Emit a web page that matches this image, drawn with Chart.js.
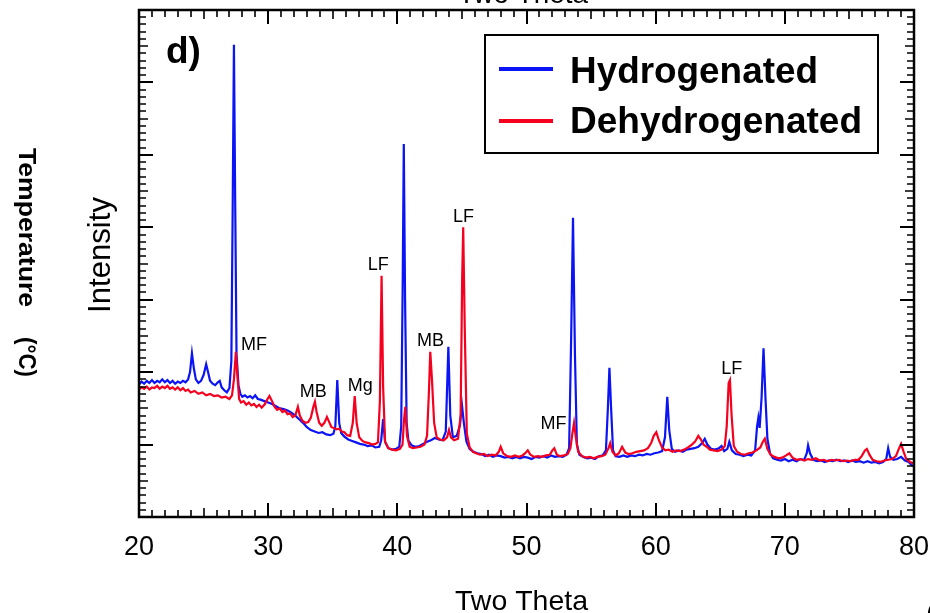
<!DOCTYPE html>
<html>
<head>
<meta charset="utf-8">
<script src="https://cdn.jsdelivr.net/npm/chart.js@4.4.1/dist/chart.umd.min.js"></script>
<style>
  html, body { margin: 0; padding: 0; background: #fff; }
</style>
</head>
<body>
<canvas id="xrd" width="930" height="613"></canvas>
<script>
// XRD pattern, panel d) — hydrogenated vs dehydrogenated

// [two theta, intensity]
const hydrogenated = [
  [20.0,183],[20.2,187],[20.4,184],[20.6,188],[20.8,185],[21.0,189],[21.2,185],[21.4,188],[21.6,186],[21.8,190],
  [22.0,186],[22.2,189],[22.4,185],[22.6,188],[22.8,184],[23.0,187],[23.2,185],[23.4,188],[23.6,186],[23.8,190],
  [23.95,200],[24.1,226],[24.25,205],[24.4,190],[24.6,185],[24.8,188],[25.0,196],[25.2,211],[25.35,200],[25.5,188],
  [25.7,184],[25.9,182],[26.1,186],[26.25,188],[26.4,179],[26.6,175],[26.8,172],[27.0,178],[27.15,215],[27.25,420],
  [27.35,652],[27.45,430],[27.55,225],[27.7,182],[27.85,170],[28.0,166],[28.2,168],[28.4,165],[28.6,167],[28.8,164],
  [29.0,168],[29.2,163],[29.4,162],[29.7,160],[30.0,158],[30.3,156],[30.6,153],[30.9,150],[31.2,149],[31.5,147],
  [31.8,144],[32.1,140],[32.4,135],[32.7,130],[33.0,124],[33.3,120],[33.6,118],[33.9,116],[34.2,117],[34.5,114],
  [34.8,113],[35.05,115],[35.2,125],[35.35,189],[35.5,130],[35.65,116],[35.9,111],[36.2,107],[36.5,105],[36.8,103],
  [37.1,101],[37.4,100],[37.7,98],[38.0,99],[38.3,96],[38.6,97],[38.75,106],[38.9,135],[39.05,104],[39.3,95],
  [39.6,93],[39.9,94],[40.15,97],[40.3,125],[40.42,330],[40.5,515],[40.6,300],[40.72,130],[40.85,106],[41.1,99],
  [41.4,97],[41.7,98],[42.0,101],[42.3,104],[42.6,106],[42.9,109],[43.2,107],[43.5,106],[43.75,118],[43.95,235],
  [44.1,140],[44.3,110],[44.6,112],[44.85,127],[45.0,155],[45.15,130],[45.35,104],[45.6,94],[45.9,90],[46.2,88],
  [46.5,87],[46.8,84],[47.1,86],[47.4,83],[47.7,85],[48.0,84],[48.3,82],[48.6,83],[48.9,81],[49.2,83],
  [49.5,81],[49.8,83],[50.1,82],[50.4,80],[50.7,83],[51.0,82],[51.3,84],[51.6,82],[51.9,85],[52.2,83],
  [52.5,84],[52.8,83],[53.1,86],[53.3,95],[53.45,240],[53.6,413],[53.75,225],[53.9,100],[54.1,86],[54.4,83],
  [54.7,81],[55.0,82],[55.3,80],[55.6,84],[55.9,85],[56.15,92],[56.3,150],[56.42,206],[56.55,150],[56.7,92],
  [56.9,84],[57.2,83],[57.5,85],[57.8,83],[58.1,85],[58.4,84],[58.7,86],[59.0,85],[59.3,87],[59.6,86],
  [59.9,88],[60.2,89],[60.5,91],[60.72,110],[60.9,166],[61.05,120],[61.25,94],[61.5,90],[61.8,92],[62.1,90],
  [62.4,93],[62.7,94],[63.0,95],[63.3,97],[63.6,102],[63.8,108],[64.0,100],[64.3,94],[64.6,93],[64.9,95],
  [65.1,98],[65.3,91],[65.55,94],[65.7,104],[65.9,92],[66.2,87],[66.5,86],[66.8,84],[67.1,86],[67.4,85],
  [67.7,92],[67.85,125],[67.95,137],[68.05,123],[68.2,165],[68.35,233],[68.5,165],[68.65,108],[68.85,88],[69.1,81],
  [69.4,79],[69.7,78],[70.0,80],[70.3,77],[70.6,79],[70.9,77],[71.2,80],[71.5,79],[71.7,88],[71.8,99],
  [71.95,88],[72.2,79],[72.5,77],[72.8,78],[73.1,76],[73.4,78],[73.7,77],[74.0,79],[74.3,77],[74.6,78],
  [74.9,76],[75.2,78],[75.5,76],[75.8,77],[76.1,75],[76.4,77],[76.7,75],[77.0,76],[77.3,74],[77.6,76],
  [77.85,80],[78.0,95],[78.15,83],[78.4,79],[78.7,80],[79.0,83],[79.3,78],[79.6,76],[79.8,72],[80.0,70]
];

const dehydrogenated = [
  [20.0,176],[20.2,179],[20.4,177],[20.6,180],[20.8,176],[21.0,179],[21.2,178],[21.4,181],[21.6,177],[21.8,180],
  [22.0,178],[22.2,181],[22.4,177],[22.6,179],[22.8,176],[23.0,179],[23.2,175],[23.4,178],[23.6,174],[23.8,176],
  [24.0,172],[24.3,174],[24.6,170],[24.9,172],[25.2,168],[25.5,170],[25.8,167],[26.1,168],[26.4,165],[26.7,166],
  [27.0,163],[27.2,168],[27.35,190],[27.5,228],[27.62,195],[27.75,163],[27.9,158],[28.1,160],[28.3,155],[28.5,158],
  [28.7,154],[28.9,156],[29.1,152],[29.3,155],[29.5,151],[29.75,156],[29.95,163],[30.1,167],[30.3,160],[30.5,152],
  [30.7,148],[30.9,150],[31.1,145],[31.3,147],[31.5,142],[31.7,143],[31.9,138],[32.1,140],[32.3,152],[32.45,140],
  [32.65,133],[32.9,130],[33.1,131],[33.3,137],[33.5,152],[33.62,159],[33.75,145],[33.95,130],[34.15,126],[34.35,130],
  [34.55,138],[34.7,132],[34.9,124],[35.1,123],[35.3,121],[35.5,122],[35.7,118],[35.9,117],[36.1,113],[36.35,112],
  [36.55,130],[36.7,167],[36.85,130],[37.05,110],[37.3,105],[37.55,103],[37.8,102],[38.05,100],[38.3,101],[38.5,103],
  [38.65,160],[38.78,333],[38.9,180],[39.05,104],[39.3,95],[39.6,93],[39.9,92],[40.2,94],[40.4,100],[40.52,135],
  [40.62,152],[40.75,112],[40.95,97],[41.2,95],[41.5,96],[41.8,97],[42.1,100],[42.3,112],[42.45,175],[42.55,228],
  [42.68,190],[42.85,130],[43.05,110],[43.3,107],[43.6,106],[43.85,110],[44.0,120],[44.15,110],[44.4,106],[44.7,108],
  [44.9,140],[45.02,330],[45.1,400],[45.22,260],[45.38,115],[45.6,96],[45.85,90],[46.1,88],[46.4,86],[46.7,87],
  [47.0,84],[47.3,86],[47.6,85],[47.85,90],[48.0,97],[48.2,88],[48.5,84],[48.8,83],[49.1,85],[49.4,83],
  [49.7,85],[49.95,89],[50.1,92],[50.3,86],[50.6,83],[50.9,84],[51.2,83],[51.5,85],[51.8,86],[52.0,92],
  [52.15,95],[52.35,86],[52.6,84],[52.9,85],[53.2,87],[53.4,95],[53.55,115],[53.68,130],[53.82,110],[54.0,90],
  [54.3,84],[54.6,82],[54.9,83],[55.2,81],[55.5,83],[55.8,84],[56.1,86],[56.35,95],[56.48,102],[56.65,90],
  [56.9,85],[57.15,88],[57.4,97],[57.65,89],[57.9,87],[58.2,88],[58.5,90],[58.8,91],[59.1,92],[59.4,95],
  [59.65,102],[59.85,112],[60.05,117],[60.25,106],[60.5,96],[60.75,92],[61.0,93],[61.3,90],[61.6,92],[61.9,91],
  [62.2,93],[62.5,96],[62.8,100],[63.05,104],[63.3,112],[63.5,107],[63.7,100],[63.95,97],[64.2,93],[64.5,92],
  [64.8,91],[65.1,93],[65.35,98],[65.5,125],[65.65,185],[65.75,189],[65.88,140],[66.05,98],[66.3,90],[66.6,87],
  [66.9,86],[67.2,88],[67.5,89],[67.8,92],[68.1,96],[68.3,104],[68.45,108],[68.65,94],[68.9,86],[69.2,83],
  [69.5,81],[69.8,82],[70.1,85],[70.35,88],[70.6,82],[70.9,79],[71.2,80],[71.5,78],[71.8,80],[72.1,79],
  [72.4,81],[72.7,78],[73.0,79],[73.3,77],[73.6,79],[73.9,78],[74.2,79],[74.5,77],[74.8,78],[75.1,77],
  [75.4,79],[75.7,79],[75.95,84],[76.2,92],[76.35,94],[76.55,86],[76.8,79],[77.1,77],[77.4,76],[77.7,78],
  [78.0,79],[78.3,80],[78.6,84],[78.85,95],[79.0,101],[79.2,90],[79.4,80],[79.7,76],[80.0,74]
];

// phase labels over the peaks
const peakLabels = ['MF', 'MB', 'Mg', 'LF', 'MB', 'LF', 'MF', 'LF'];
const peakLabelTheta = [28.91, 33.49, 37.13, 38.53, 42.56, 45.12, 52.09, 65.89];
const peakLabelIntensity = [231, 166, 174, 341, 236, 407, 122, 197];

const seriesNames = ['Hydrogenated', 'Dehydrogenated'];
const seriesColors = ['#0a14f5', '#f5001e'];

const thetaMin = 20, thetaMax = 80, thetaStep = 10;
const intensityMin = 0, intensityMax = 700;

const FONT = '"Liberation Sans", Arial, Helvetica, sans-serif';

// draw text squeezed/stretched to a given width
function fitText(ctx, text, x, y, width) {
  const w = ctx.measureText(text).width;
  ctx.save();
  ctx.translate(x, y);
  ctx.scale(width / w, 1);
  ctx.fillText(text, 0, 0);
  ctx.restore();
}

const decorations = {
  id: 'decorations',
  afterDraw(chart) {
    const { ctx, chartArea: a, scales: { x, y } } = chart;
    ctx.save();
    ctx.strokeStyle = '#000';
    ctx.fillStyle = '#000';

    // inward ticks, all four sides
    for (let t = thetaMin + 1; t < thetaMax; t++) {
      const px = Math.round(x.getPixelForValue(t));
      const len = t % 10 === 0 ? 14 : (t % 5 === 0 ? 9 : 7);
      ctx.lineWidth = t % 10 === 0 ? 2 : 1.6;
      ctx.beginPath();
      ctx.moveTo(px, a.bottom); ctx.lineTo(px, a.bottom - len);
      ctx.moveTo(px, a.top); ctx.lineTo(px, a.top + len);
      ctx.stroke();
    }
    for (let v = intensityMin + 10; v < intensityMax; v += 10) {
      const py = Math.round(y.getPixelForValue(v));
      const len = v % 100 === 0 ? 14 : (v % 50 === 0 ? 9 : 7);
      ctx.lineWidth = v % 100 === 0 ? 2 : 1.6;
      ctx.beginPath();
      ctx.moveTo(a.left, py); ctx.lineTo(a.left + len, py);
      ctx.moveTo(a.right, py); ctx.lineTo(a.right - len, py);
      ctx.stroke();
    }

    // frame
    ctx.lineWidth = 2.5;
    ctx.strokeRect(a.left, a.top, a.right - a.left, a.bottom - a.top);

    // peak labels
    ctx.font = `18px ${FONT}`;
    ctx.textAlign = 'center';
    ctx.textBaseline = 'alphabetic';
    peakLabels.forEach((lbl, i) => {
      ctx.fillText(lbl, x.getPixelForValue(peakLabelTheta[i]), y.getPixelForValue(peakLabelIntensity[i]));
    });

    // panel letter
    ctx.textAlign = 'left';
    ctx.font = `bold 37px ${FONT}`;
    ctx.fillText('d)', 166, 63);

    // legend
    ctx.lineWidth = 2;
    ctx.strokeRect(485, 35, 393, 118);
    ctx.font = `bold 36px ${FONT}`;
    seriesNames.forEach((name, i) => {
      const ly = 69 + i * 52;
      ctx.strokeStyle = seriesColors[i];
      ctx.lineWidth = 4;
      ctx.beginPath();
      ctx.moveTo(499, ly); ctx.lineTo(553, ly);
      ctx.stroke();
      fitText(ctx, name, 570, 83 + i * 50, i === 0 ? 248 : 292);
    });

    // axis titles
    ctx.font = `28px ${FONT}`;
    ctx.textAlign = 'left';
    fitText(ctx, 'Two Theta', 455, 610, 133);
    fitText(ctx, 'Two Theta', 458, 3, 130);
    ctx.fillText('(', 926, 622);

    ctx.save();
    ctx.translate(110, 313);
    ctx.rotate(-Math.PI / 2);
    ctx.font = `31px ${FONT}`;
    fitText(ctx, 'Intensity', 0, 0, 116);
    ctx.restore();

    ctx.save();
    ctx.translate(19, 148);
    ctx.rotate(Math.PI / 2);
    ctx.font = `bold 24px ${FONT}`;
    fitText(ctx, 'Temperature', 0, 0, 159);
    fitText(ctx, '(°C)', 189, 0, 40);
    ctx.restore();

    ctx.restore();
  }
};

const toPoints = rows => rows.map(([t, c]) => ({ x: t, y: c }));

new Chart(document.getElementById('xrd'), {
  type: 'line',
  data: {
    datasets: [
      {
        label: seriesNames[0],
        data: toPoints(hydrogenated),
        borderColor: seriesColors[0],
        borderWidth: 2.2,
        pointRadius: 0,
        tension: 0,
        order: 1
      },
      {
        label: seriesNames[1],
        data: toPoints(dehydrogenated),
        borderColor: seriesColors[1],
        borderWidth: 2.2,
        pointRadius: 0,
        tension: 0,
        order: 0
      }
    ]
  },
  options: {
    responsive: false,
    animation: false,
    events: [],
    layout: { padding: { top: 10, right: 16, left: 0, bottom: 0 } },
    plugins: { legend: { display: false }, tooltip: { enabled: false } },
    scales: {
      x: {
        type: 'linear',
        min: thetaMin,
        max: thetaMax,
        grid: { display: false },
        border: { display: false },
        ticks: {
          stepSize: thetaStep,
          autoSkip: false,
          maxRotation: 0,
          padding: 6,
          color: '#000',
          font: { family: FONT, size: 27 }
        },
        afterFit: s => { s.height = 96; s.paddingLeft = 0; s.paddingRight = 0; }
      },
      y: {
        min: intensityMin,
        max: intensityMax,
        grid: { display: false },
        border: { display: false },
        ticks: { display: false },
        afterFit: s => { s.width = 139; }
      }
    }
  },
  plugins: [decorations]
});
</script>
</body>
</html>
